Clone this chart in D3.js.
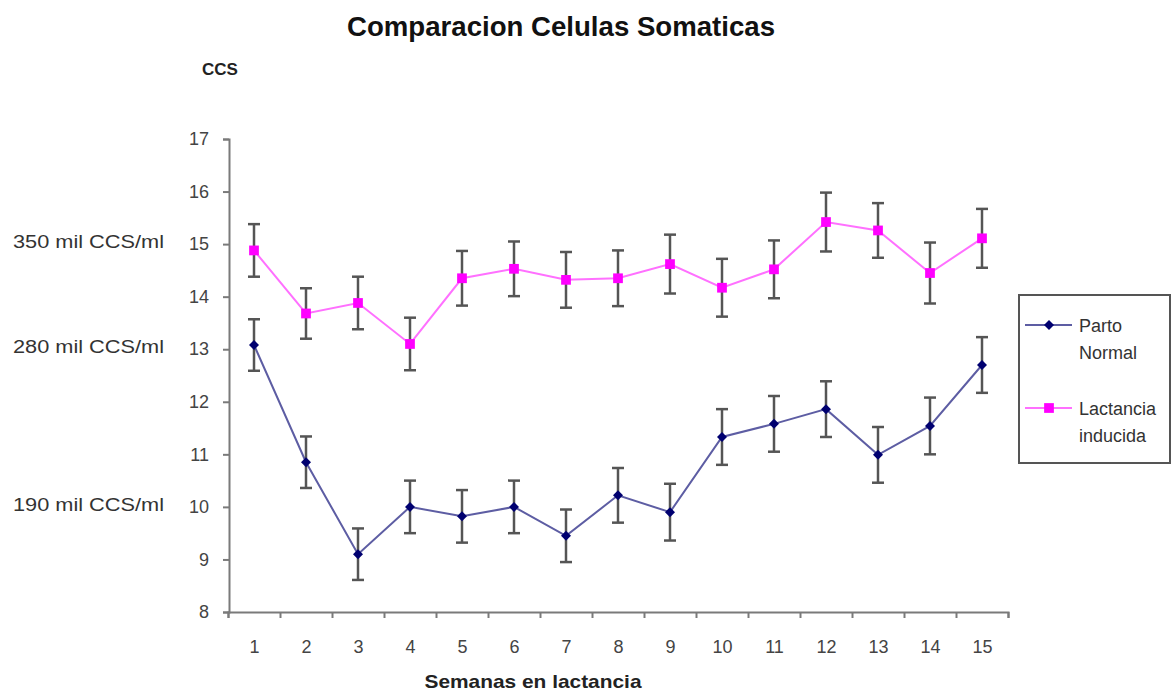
<!DOCTYPE html>
<html>
<head>
<meta charset="utf-8">
<script src="https://cdn.jsdelivr.net/npm/d3@7"></script>
<style>
  body { margin: 0; background: #fff; }
  svg { display: block; font-family: "Liberation Sans", Arial, sans-serif; }
</style>
</head>
<body>
<svg id="chart" width="1176" height="692"></svg>
<script>
const weeks = [1, 2, 3, 4, 5, 6, 7, 8, 9, 10, 11, 12, 13, 14, 15];
const partoNormal = [13.08, 10.85, 9.1, 10.0, 9.82, 10.0, 9.45, 10.22, 9.9, 11.33, 11.58, 11.86, 10.99, 11.54, 12.7];
const partoErr = [0.49, 0.49, 0.49, 0.5, 0.5, 0.5, 0.5, 0.52, 0.54, 0.53, 0.53, 0.53, 0.53, 0.54, 0.53];
const lactancia = [14.88, 13.68, 13.88, 13.1, 14.35, 14.53, 14.32, 14.35, 14.62, 14.17, 14.52, 15.42, 15.26, 14.45, 15.11];
const lactErr = [0.5, 0.48, 0.5, 0.5, 0.52, 0.52, 0.53, 0.53, 0.56, 0.55, 0.55, 0.56, 0.52, 0.58, 0.56];
const yTicks = [8, 9, 10, 11, 12, 13, 14, 15, 16, 17];
const sideLabels = [
  { v: 15, text: '350 mil CCS/ml' },
  { v: 13, text: '280 mil CCS/ml' },
  { v: 10, text: '190 mil CCS/ml' }
];

// diamond = square turned 45deg
const series = [
  { name: ['Parto', 'Normal'], values: partoNormal, err: partoErr,
    line: '#5d5da3', fill: '#000070', shape: d3.symbolSquare, size: 50, rot: 45 },
  { name: ['Lactancia', 'inducida'], values: lactancia, err: lactErr,
    line: '#ff70ff', fill: '#ff00ff', shape: d3.symbolSquare, size: 95, rot: 0 }
];

const svg = d3.select('#chart');
const x = d3.scaleLinear().domain([0.5, 15.5]).range([228, 1008]);
const y = d3.scaleLinear().domain([8, 17]).range([612, 139]);

// title and small labels
svg.append('text')
  .attr('x', 561).attr('y', 36)
  .attr('text-anchor', 'middle')
  .attr('font-size', 27).attr('font-weight', 'bold')
  .attr('textLength', 428).attr('lengthAdjust', 'spacingAndGlyphs')
  .attr('fill', '#111')
  .text('Comparacion Celulas Somaticas');

svg.append('text')
  .attr('x', 220).attr('y', 75)
  .attr('text-anchor', 'middle')
  .attr('font-size', 17).attr('font-weight', 'bold')
  .attr('fill', '#222')
  .text('CCS');

svg.append('text')
  .attr('x', 533).attr('y', 688)
  .attr('text-anchor', 'middle')
  .attr('font-size', 19).attr('font-weight', 'bold')
  .attr('textLength', 217).attr('lengthAdjust', 'spacingAndGlyphs')
  .attr('fill', '#222')
  .text('Semanas en lactancia');

svg.selectAll('.side')
  .data(sideLabels)
  .enter()
  .append('text')
  .attr('class', 'side')
  .attr('x', 164)
  .attr('y', d => y(d.v) + 4)
  .attr('text-anchor', 'end')
  .attr('font-size', 18)
  .attr('textLength', 151).attr('lengthAdjust', 'spacingAndGlyphs')
  .attr('fill', '#333')
  .text(d => d.text);

// axes
const yAxis = svg.append('g')
  .attr('transform', 'translate(229,0)')
  .call(d3.axisLeft(y).tickValues(yTicks).tickSize(6).tickPadding(14).tickFormat(d3.format('d')));

const xTicksG = svg.append('g')
  .attr('transform', 'translate(0,612)')
  .call(d3.axisBottom(x).tickValues(d3.range(0.5, 16, 1)).tickSize(6).tickFormat(''));

const xLabels = svg.append('g')
  .attr('transform', 'translate(0,612)')
  .call(d3.axisBottom(x).tickValues(weeks).tickSize(0).tickPadding(28).tickFormat(d3.format('d')));
xLabels.select('.domain').remove();

[yAxis, xTicksG, xLabels].forEach(function(g) {
  g.selectAll('.domain').attr('stroke', '#7a7a7a').attr('stroke-width', 2);
  g.selectAll('.tick line').attr('stroke', '#7a7a7a').attr('stroke-width', 2);
  g.selectAll('.tick text')
    .attr('font-family', '"Liberation Sans", Arial, sans-serif')
    .attr('font-size', 18)
    .attr('fill', '#444');
});

// series
const line = d3.line()
  .x((d, i) => x(weeks[i]))
  .y(d => y(d));

series.forEach(function(s) {
  svg.append('path')
    .datum(s.values)
    .attr('fill', 'none')
    .attr('stroke', s.line)
    .attr('stroke-width', 2)
    .attr('d', line);

  const bars = svg.append('g')
    .selectAll('g')
    .data(s.values)
    .enter()
    .append('g')
    .attr('stroke', '#555')
    .attr('stroke-width', 2.5);
  bars.append('line')
    .attr('x1', (d, i) => x(weeks[i])).attr('x2', (d, i) => x(weeks[i]))
    .attr('y1', (d, i) => y(d + s.err[i])).attr('y2', (d, i) => y(d - s.err[i]));
  bars.append('line')
    .attr('x1', (d, i) => x(weeks[i]) - 6).attr('x2', (d, i) => x(weeks[i]) + 6)
    .attr('y1', (d, i) => y(d + s.err[i])).attr('y2', (d, i) => y(d + s.err[i]));
  bars.append('line')
    .attr('x1', (d, i) => x(weeks[i]) - 6).attr('x2', (d, i) => x(weeks[i]) + 6)
    .attr('y1', (d, i) => y(d - s.err[i])).attr('y2', (d, i) => y(d - s.err[i]));

  svg.append('g')
    .selectAll('path')
    .data(s.values)
    .enter()
    .append('path')
    .attr('transform', (d, i) => 'translate(' + x(weeks[i]) + ',' + y(d) + ') rotate(' + s.rot + ')')
    .attr('d', d3.symbol().type(s.shape).size(s.size))
    .attr('fill', s.fill);
});

// legend
const legend = svg.append('g');
legend.append('rect')
  .attr('x', 1019).attr('y', 295)
  .attr('width', 151).attr('height', 168)
  .attr('fill', '#fff')
  .attr('stroke', '#555').attr('stroke-width', 2);

const legendY = [325, 408];
series.forEach(function(s, i) {
  const ly = legendY[i];
  legend.append('line')
    .attr('x1', 1025).attr('x2', 1072)
    .attr('y1', ly).attr('y2', ly)
    .attr('stroke', s.line).attr('stroke-width', 2);
  legend.append('path')
    .attr('transform', 'translate(1049,' + ly + ') rotate(' + s.rot + ')')
    .attr('d', d3.symbol().type(s.shape).size(s.size))
    .attr('fill', s.fill);
  s.name.forEach(function(t, j) {
    legend.append('text')
      .attr('x', 1079)
      .attr('y', ly + 7 + j * 27)
      .attr('font-size', 18)
      .attr('fill', '#333')
      .text(t);
  });
});
</script>
</body>
</html>
